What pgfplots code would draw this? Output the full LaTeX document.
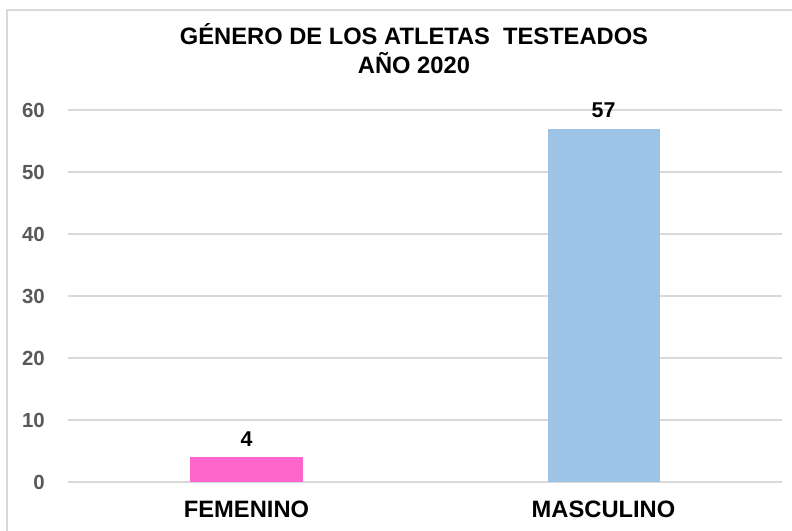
\documentclass[border=0pt]{standalone}
\usepackage{fontspec}
\setmainfont{Liberation Sans}
\usepackage{pgfplots}
\pgfplotsset{compat=1.18}
\definecolor{gridc}{HTML}{D9D9D9}
\definecolor{tickc}{HTML}{595959}
\definecolor{pinkc}{HTML}{FF66CC}
\definecolor{bluec}{HTML}{9DC3E6}
\begin{document}
\begin{tikzpicture}
\begin{axis}[
  at={(0,0)}, anchor=south west,
  scale only axis,
  width=714bp, height=372bp,
  xmin=-0.5, xmax=1.5,
  ymin=0, ymax=60,
  clip=false,
  ybar, bar width=112bp,
  axis line style={draw=none},
  major tick length=0pt,
  xtick={0,1},
  xticklabels={FEMENINO,MASCULINO},
  ytick={0,10,20,30,40,50,60},
  ymajorgrids,
  grid style={gridc, line width=1.5bp},
  /pgf/number format/assume math mode=true,
  yticklabel style={font=\fontsize{20.5}{24}\selectfont\bfseries, text=tickc, inner sep=0pt, anchor=east, xshift=-23bp},
  xticklabel style={font=\fontsize{23.8}{28}\selectfont\bfseries, text=black, inner sep=0pt, anchor=center, yshift=-27bp},
  nodes near coords,
  nodes near coords style={font=\fontsize{21.5}{25}\selectfont\bfseries, text=black, anchor=south, inner sep=0pt, yshift=11bp},
  title={GÉNERO DE LOS ATLETAS~~TESTEADOS\\AÑO 2020},
  title style={at={(0.4846,1.148)}, anchor=center, align=center, inner sep=0pt,
    font=\fontsize{23.8}{29}\selectfont\bfseries},
]
\addplot[fill=pinkc, draw=none, bar shift=0pt] coordinates {(0,4)};
\addplot[fill=bluec, draw=none, bar shift=0pt] coordinates {(1,57)};
\end{axis}
\draw[gridc, line width=2bp] (-61bp,-80bp) -- (-61bp,472bp) -- (760bp,472bp);
\pgfresetboundingbox
\useasboundingbox (-68bp,-49bp) rectangle (724bp,482bp);
\end{tikzpicture}
\end{document}
